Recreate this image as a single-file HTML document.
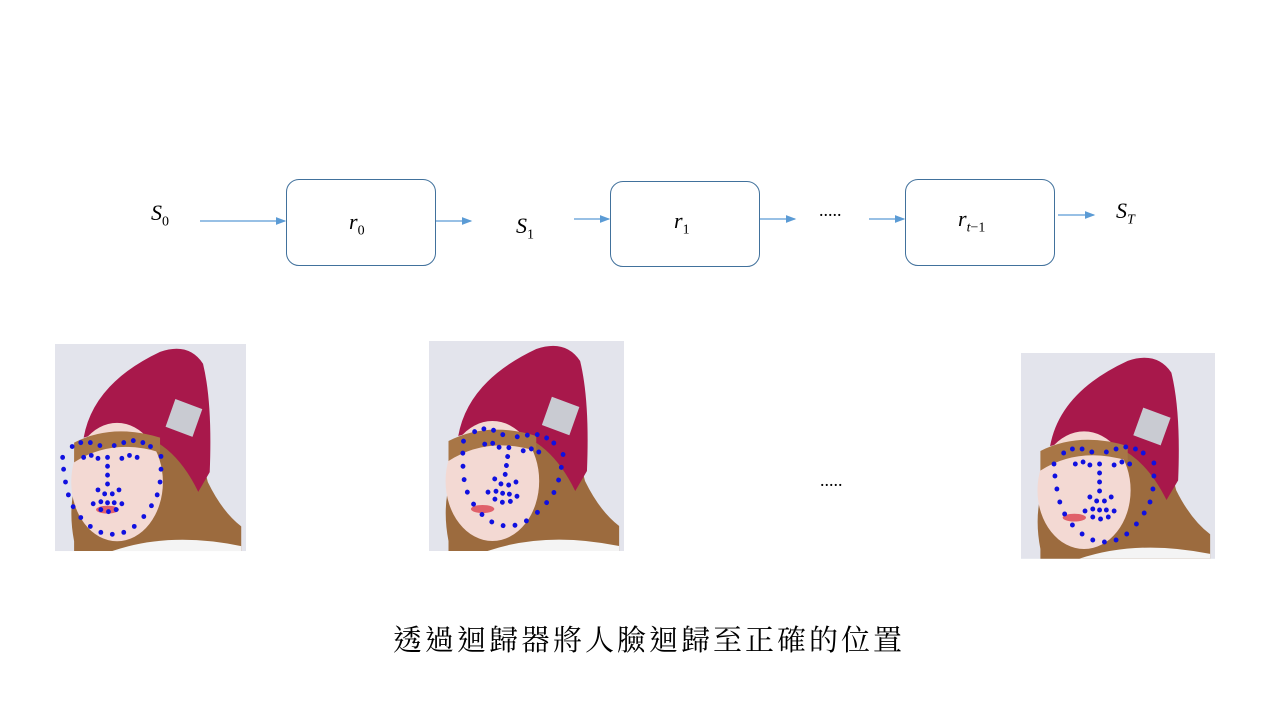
<!DOCTYPE html>
<html><head><meta charset="utf-8"><style>
body{margin:0;width:1280px;height:720px;background:#fff;overflow:hidden;position:relative;font-family:"Liberation Serif",serif}
.t{position:absolute;font-style:italic;font-size:22px;color:#000}
.t sub{font-size:14px;font-style:normal}
.box{position:absolute;border:1px solid #41719c;border-radius:13px;background:#fff}
.cap{position:absolute;left:393px;width:520px;top:618px;white-space:nowrap;font-family:"Liberation Serif","Noto Serif CJK TC","Noto Serif CJK SC",serif;font-size:29px;letter-spacing:3px}
</style></head><body>
<svg width="1280" height="720" style="position:absolute;left:0;top:0">
<defs>
<marker id="a" markerWidth="8" markerHeight="8" refX="7" refY="4" orient="auto"><path d="M0,1 L8,4 L0,7z" fill="#5b9bd5"/></marker>
<g id="face">
<rect width="200" height="210" fill="#e3e4ec"/>
<path d="M20,200 Q10,150 35,110 Q60,70 110,85 Q150,95 160,140 Q175,170 195,185 L195,210 L20,210z" fill="#9c6b3e"/>
<path d="M30,95 Q40,40 110,8 Q140,-2 155,20 Q165,60 162,130 L150,150 Q110,70 30,95z" fill="#a8184b"/>
<rect x="120" y="60" width="30" height="30" fill="#c9cbd2" transform="rotate(20 135 75)"/>
<ellipse cx="65" cy="140" rx="48" ry="60" fill="#f3d9d3"/>
<path d="M20,100 Q60,80 110,95 L110,110 Q60,95 20,120z" fill="#a87646"/>
<ellipse cx="55" cy="168" rx="12" ry="4" fill="#e0606a"/>
<path d="M60,210 Q120,190 195,205 L195,210z" fill="#f4f4f4"/>
</g>
<g id="dots" fill="#1010e0">
<circle cx="8" cy="115" r="2.5"/><circle cx="9" cy="127" r="2.5"/><circle cx="11" cy="140" r="2.5"/><circle cx="14" cy="153" r="2.5"/><circle cx="19" cy="165" r="2.5"/><circle cx="27" cy="176" r="2.5"/><circle cx="37" cy="185" r="2.5"/><circle cx="48" cy="191" r="2.5"/><circle cx="60" cy="193" r="2.5"/><circle cx="72" cy="191" r="2.5"/><circle cx="83" cy="185" r="2.5"/><circle cx="93" cy="175" r="2.5"/><circle cx="101" cy="164" r="2.5"/><circle cx="107" cy="153" r="2.5"/><circle cx="110" cy="140" r="2.5"/><circle cx="111" cy="127" r="2.5"/><circle cx="111" cy="114" r="2.5"/>
<circle cx="18" cy="104" r="2.5"/><circle cx="27" cy="100" r="2.5"/><circle cx="37" cy="100" r="2.5"/><circle cx="47" cy="103" r="2.5"/><circle cx="62" cy="103" r="2.5"/><circle cx="72" cy="100" r="2.5"/><circle cx="82" cy="98" r="2.5"/><circle cx="92" cy="100" r="2.5"/><circle cx="100" cy="104" r="2.5"/>
<circle cx="55" cy="115" r="2.5"/><circle cx="55" cy="124" r="2.5"/><circle cx="55" cy="133" r="2.5"/><circle cx="55" cy="142" r="2.5"/>
<circle cx="30" cy="115" r="2.5"/><circle cx="38" cy="113" r="2.5"/><circle cx="45" cy="116" r="2.5"/><circle cx="70" cy="116" r="2.5"/><circle cx="78" cy="113" r="2.5"/><circle cx="86" cy="115" r="2.5"/>
<circle cx="45" cy="148" r="2.5"/><circle cx="52" cy="152" r="2.5"/><circle cx="60" cy="152" r="2.5"/><circle cx="67" cy="148" r="2.5"/>
<circle cx="40" cy="162" r="2.5"/><circle cx="48" cy="160" r="2.5"/><circle cx="55" cy="161" r="2.5"/><circle cx="62" cy="161" r="2.5"/><circle cx="70" cy="162" r="2.5"/><circle cx="48" cy="168" r="2.5"/><circle cx="56" cy="170" r="2.5"/><circle cx="64" cy="168" r="2.5"/>
</g>
</defs>
<g stroke="#5b9bd5" stroke-width="1.3" marker-end="url(#a)">
<line x1="200" y1="221" x2="285" y2="221"/><line x1="436" y1="221" x2="471" y2="221"/>
<line x1="574" y1="219" x2="609" y2="219"/><line x1="760" y1="219" x2="795" y2="219"/>
<line x1="869" y1="219" x2="904" y2="219"/><line x1="1058" y1="215" x2="1094" y2="215"/>
</g>
<g transform="translate(55,344) scale(0.955,0.986)"><use href="#face"/><use href="#dots"/></g>
<g transform="translate(429,341) scale(0.975,1)"><use href="#face"/><use href="#dots" transform="translate(22,-8) rotate(8 60 150)"/></g>
<g transform="translate(1021,353) scale(0.97,0.98)"><use href="#face"/><use href="#dots" transform="translate(26,-4) scale(1,1.02)"/></g>
</svg>
<div class="box" style="left:286px;top:179px;width:148px;height:85px"></div>
<div class="box" style="left:610px;top:181px;width:148px;height:84px"></div>
<div class="box" style="left:905px;top:179px;width:148px;height:85px"></div>
<div class="t" style="left:151px;top:200px">S<sub>0</sub></div>
<div class="t" style="left:349px;top:209px">r<sub>0</sub></div>
<div class="t" style="left:516px;top:213px">S<sub>1</sub></div>
<div class="t" style="left:674px;top:208px">r<sub>1</sub></div>
<div class="t" style="left:958px;top:206px">r<sub><i>t</i>−1</sub></div>
<div class="t" style="left:1116px;top:198px">S<sub><i>T</i></sub></div>
<div class="t" style="left:819px;top:200px;font-style:normal;font-size:18px">.....</div>
<div class="t" style="left:820px;top:470px;font-style:normal;font-size:18px">.....</div>
<div class="cap">透過迴歸器將人臉迴歸至正確的位置</div>
</body></html>
